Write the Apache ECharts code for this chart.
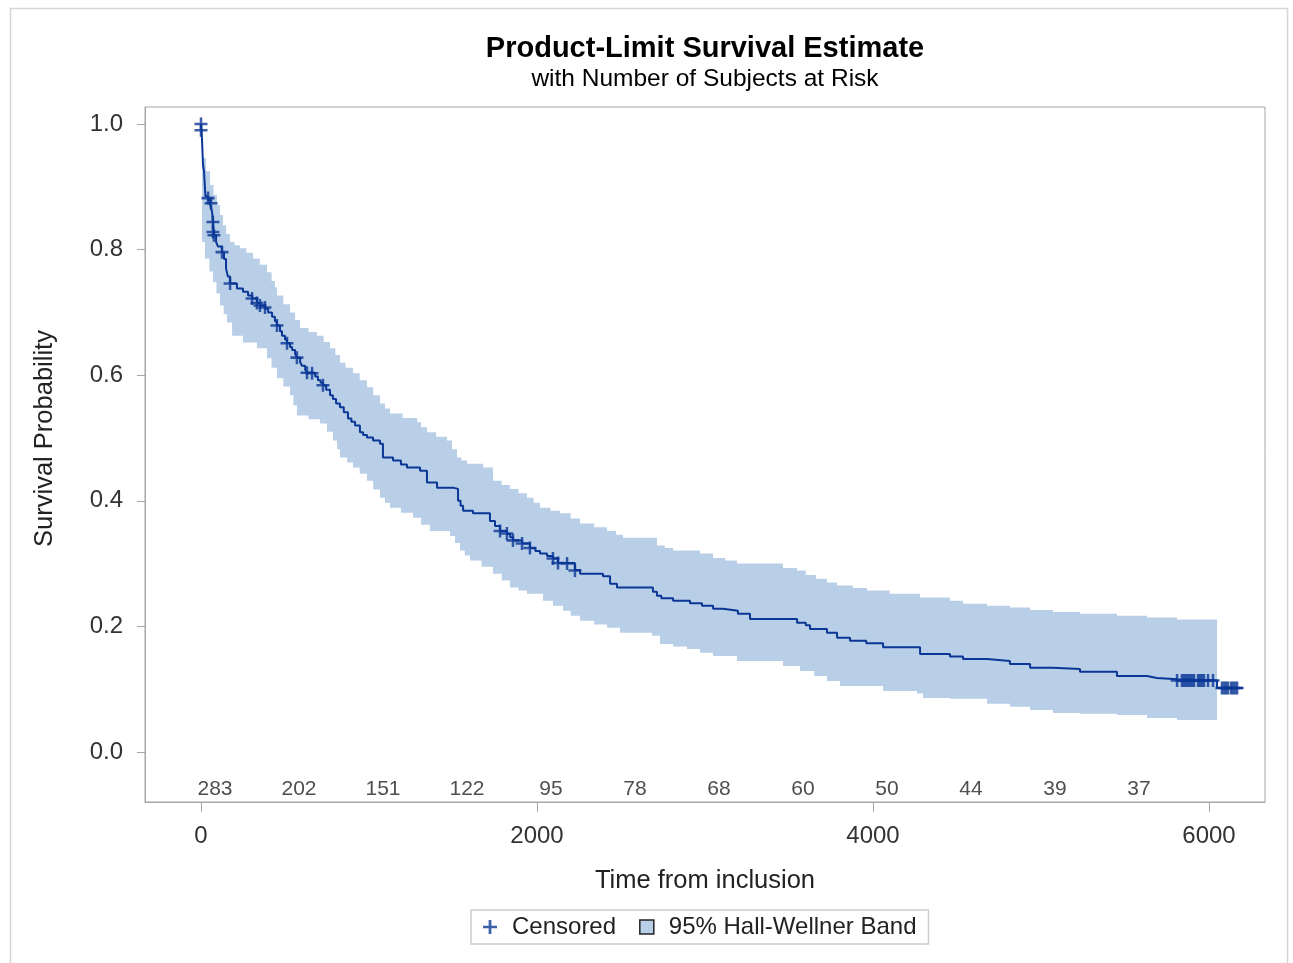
<!DOCTYPE html>
<html>
<head>
<meta charset="utf-8">
<script src="https://cdn.jsdelivr.net/npm/echarts@6/dist/echarts.min.js"></script>
<style>
html,body{margin:0;padding:0;background:#fff;}
#chart{width:1293px;height:963px;}
</style>
</head>
<body>
<div id="chart"></div>
<script>
// ---- Data ----
const kmTime = [0,3,6,9,12,18,22,26,42,55,66,71,77,90,101,125,137,149,160,173,214,250,280,304,333,351,381,400,423,440,452,470,482,500,512,530,542,560,571,590,601,620,631,680,696,712,726,745,768,785,804,827,850,875,895,917,946,965,988,1024,1065,1083,1143,1190,1226,1304,1345,1405,1500,1530,1545,1560,1619,1720,1750,1780,1821,1840,1857,1911,1958,1990,2018,2060,2095,2125,2226,2256,2393,2435,2476,2690,2714,2740,2810,2911,2982,3048,3107,3196,3268,3548,3600,3625,3726,3786,3863,3960,4060,4280,4458,4536,4679,4815,4935,5071,5232,5452,5631,5690,5810,6048,6202];
const kmSurv = [1.0,0.99,0.975,0.955,0.935,0.925,0.905,0.885,0.879,0.871,0.86,0.844,0.823,0.812,0.805,0.796,0.785,0.770,0.757,0.746,0.738,0.733,0.727,0.722,0.715,0.711,0.706,0.700,0.693,0.686,0.679,0.670,0.663,0.657,0.651,0.645,0.640,0.634,0.628,0.621,0.615,0.609,0.604,0.598,0.592,0.588,0.584,0.577,0.568,0.562,0.555,0.549,0.541,0.531,0.526,0.520,0.509,0.505,0.501,0.496,0.491,0.469,0.464,0.458,0.453,0.448,0.429,0.421,0.419,0.400,0.392,0.384,0.380,0.368,0.360,0.352,0.347,0.342,0.337,0.332,0.325,0.320,0.316,0.312,0.308,0.301,0.290,0.284,0.280,0.268,0.262,0.255,0.249,0.245,0.241,0.237,0.233,0.228,0.225,0.220,0.212,0.206,0.202,0.196,0.190,0.182,0.177,0.173,0.167,0.156,0.152,0.148,0.145,0.140,0.134,0.132,0.128,0.121,0.118,0.116,0.114,0.102,0.102];

const censTime = [0,0,42,60,71,71,77,125,173,304,333,351,381,452,512,571,631,661,726,1780,1821,1857,1911,1958,2095,2125,2179,2226,
  5810,5839,5851,5863,5875,5887,5899,5911,5935,5946,5958,5970,5994,6024,6077,6089,6101,6113,6131,6143,6155,6167];
const censSurv = [1.0,0.99,0.882,0.874,0.844,0.828,0.823,0.796,0.746,0.722,0.715,0.711,0.708,0.679,0.651,0.628,0.604,0.603,0.584,0.352,0.348,0.337,0.332,0.325,0.308,0.301,0.300,0.289,
  0.114,0.114,0.114,0.114,0.114,0.114,0.114,0.114,0.114,0.114,0.114,0.114,0.114,0.114,0.102,0.102,0.102,0.102,0.102,0.102,0.102,0.102];

const bandUpTime = [6,30,54,75,95,113,131,150,173,200,232,270,310,350,393,420,440,452,490,530,560,589,640,690,730,768,800,827,860,905,945,988,1025,1065,1095,1125,1200,1286,1310,1345,1400,1464,1494,1524,1550,1583,1679,1738,1790,1839,1890,1940,1980,2018,2080,2137,2200,2256,2340,2417,2470,2512,2714,2760,2810,2970,3048,3120,3190,3464,3548,3600,3660,3726,3786,3880,3964,4100,4280,4458,4536,4679,4815,4935,5071,5232,5452,5631,5810];
const bandUpVal = [0.946,0.925,0.903,0.887,0.871,0.855,0.839,0.825,0.812,0.807,0.802,0.795,0.786,0.776,0.764,0.750,0.740,0.727,0.713,0.700,0.688,0.675,0.669,0.663,0.653,0.643,0.632,0.620,0.612,0.603,0.592,0.581,0.568,0.555,0.547,0.539,0.532,0.525,0.517,0.509,0.502,0.496,0.482,0.469,0.464,0.459,0.453,0.432,0.425,0.419,0.412,0.405,0.397,0.389,0.384,0.380,0.372,0.364,0.358,0.352,0.346,0.341,0.329,0.325,0.321,0.316,0.309,0.305,0.300,0.293,0.289,0.282,0.276,0.270,0.265,0.261,0.257,0.252,0.246,0.241,0.236,0.233,0.230,0.226,0.223,0.220,0.217,0.214,0.211];
const bandLoTime = [6,24,50,71,92,113,135,155,185,250,333,393,420,452,490,530,550,571,640,708,750,786,810,827,870,905,945,988,1025,1065,1095,1125,1190,1262,1310,1363,1482,1512,1542,1570,1601,1670,1738,1790,1839,1890,1940,2036,2095,2155,2200,2256,2340,2417,2494,2685,2732,2810,2893,2970,3048,3190,3464,3565,3650,3726,3804,4060,4262,4298,4458,4679,4815,4935,5071,5232,5452,5631,5810];
const bandLoVal = [0.812,0.786,0.765,0.748,0.730,0.711,0.697,0.684,0.663,0.652,0.643,0.627,0.612,0.595,0.582,0.568,0.552,0.536,0.530,0.523,0.510,0.496,0.482,0.469,0.461,0.453,0.443,0.432,0.418,0.405,0.397,0.389,0.381,0.373,0.362,0.352,0.344,0.333,0.321,0.313,0.305,0.295,0.284,0.273,0.262,0.257,0.252,0.241,0.233,0.225,0.217,0.209,0.203,0.198,0.190,0.185,0.172,0.168,0.164,0.158,0.153,0.145,0.137,0.129,0.121,0.113,0.105,0.097,0.093,0.086,0.085,0.077,0.072,0.067,0.062,0.061,0.059,0.054,0.051];
const bandEndTime = 6048;

const riskTime = [0,500,1000,1500,2000,2500,3000,3500,4000,4500,5000,5500];
const riskCount = [283,202,151,122,95,78,68,60,50,44,39,37];
const riskRowValue = -0.059;

const xTickValues = [0,2000,4000,6000];
const yTickValues = [0,0.2,0.4,0.6,0.8,1.0];

// ---- Styling ----
const FONT = '"Liberation Sans", Arial, Helvetica, sans-serif';
const LINE_COLOR = '#0a3796';
const BAND_COLOR = '#b9cfe7';
const AXIS_COLOR = '#a6a6a6';
const PLUS = 'path://M5,0H7.4V5H12.4V7.4H7.4V12.4H5V7.4H0V5H5Z';

const chart = echarts.init(document.getElementById('chart'), null, {renderer: 'canvas'});

const option = {
  animation: false,
  backgroundColor: '#fff',
  graphic: [
    {type: 'rect', silent: true, z: -10,
     shape: {x: 10.5, y: 8.5, width: 1277, height: 980},
     style: {fill: 'none', stroke: '#d6d6d6', lineWidth: 1.5}},
    {type: 'text', x: 705, y: 49,
     style: {text: 'Product-Limit Survival Estimate', fontFamily: FONT, fontWeight: 'bold', fontSize: 29,
             fill: '#000', align: 'center', verticalAlign: 'middle'}},
    {type: 'text', x: 705, y: 79,
     style: {text: 'with Number of Subjects at Risk', fontFamily: FONT, fontSize: 24.5,
             fill: '#000', align: 'center', verticalAlign: 'middle'}}
  ],
  grid: {left: 145, top: 107, right: 28, bottom: 161, show: true,
         borderColor: AXIS_COLOR, borderWidth: 1, containLabel: false},
  legend: {
    left: 471, top: 910, orient: 'horizontal',
    padding: [5, 12], itemGap: 23, itemWidth: 14, itemHeight: 14,
    borderColor: '#cccccc', borderWidth: 1.5, backgroundColor: '#fff',
    selectedMode: false,
    textStyle: {fontFamily: FONT, fontSize: 24, color: '#222', padding: [0, 0, 0, 10]},
    data: [
      {name: 'Censored', icon: PLUS, itemStyle: {color: LINE_COLOR, borderWidth: 0}},
      {name: '95% Hall-Wellner Band', icon: 'rect',
       itemStyle: {color: BAND_COLOR, borderColor: '#222', borderWidth: 1.5}}
    ]
  },
  xAxis: {
    type: 'value', min: -333.33, max: 6333.33,
    name: 'Time from inclusion', nameLocation: 'middle', nameGap: 66,
    nameTextStyle: {fontFamily: FONT, fontSize: 25.5, color: '#222'},
    axisLine: {show: true, onZero: false, lineStyle: {color: AXIS_COLOR}},
    axisTick: {show: true, customValues: xTickValues, length: 10, lineStyle: {color: AXIS_COLOR}},
    axisLabel: {show: true, customValues: xTickValues, margin: 22,
                fontFamily: FONT, fontSize: 24, color: '#333',
                formatter: v => String(Math.round(v))},
    splitLine: {show: false}
  },
  yAxis: {
    type: 'value', min: -0.0796, max: 1.0271,
    name: 'Survival Probability', nameLocation: 'middle', nameGap: 87,
    nameTextStyle: {fontFamily: FONT, fontSize: 25.5, color: '#222', padding: [0, 0, 0, 32]},
    axisLine: {show: true, onZero: false, lineStyle: {color: AXIS_COLOR}},
    axisTick: {show: true, customValues: yTickValues, length: 8, lineStyle: {color: AXIS_COLOR}},
    axisLabel: {show: true, customValues: yTickValues, margin: 22,
                fontFamily: FONT, fontSize: 24, color: '#333',
                formatter: v => Number(v).toFixed(1)},
    splitLine: {show: false}
  },
  series: [
    {
      name: '95% Hall-Wellner Band', type: 'custom', z: 1, clip: true,
      itemStyle: {color: BAND_COLOR},
      data: [[0, 0]],
      renderItem: function (params, api) {
        const pts = [];
        for (let i = 0; i < bandUpTime.length; i++) {
          const tn = i < bandUpTime.length - 1 ? bandUpTime[i + 1] : bandEndTime;
          pts.push(api.coord([bandUpTime[i], bandUpVal[i]]));
          pts.push(api.coord([tn, bandUpVal[i]]));
        }
        for (let i = bandLoTime.length - 1; i >= 0; i--) {
          const tn = i < bandLoTime.length - 1 ? bandLoTime[i + 1] : bandEndTime;
          pts.push(api.coord([tn, bandLoVal[i]]));
          pts.push(api.coord([bandLoTime[i], bandLoVal[i]]));
        }
        return {type: 'polygon', shape: {points: pts}, style: {fill: BAND_COLOR}};
      }
    },
    {
      name: 'Survival', type: 'line', step: 'end', z: 3,
      showSymbol: false, symbol: 'none',
      lineStyle: {color: LINE_COLOR, width: 2},
      data: kmTime.map((t, i) => [t, kmSurv[i]])
    },
    {
      name: 'Censored', type: 'scatter', z: 4,
      symbol: PLUS, symbolSize: 13,
      itemStyle: {color: LINE_COLOR},
      data: censTime.map((t, i) => [t, censSurv[i]])
    },
    {
      name: 'At Risk', type: 'scatter', z: 5, symbolSize: 1,
      itemStyle: {color: 'rgba(0,0,0,0)'},
      label: {show: true, position: 'inside', offset: [14, 0],
              fontFamily: FONT, fontSize: 21, color: '#222',
              formatter: p => String(p.value[2])},
      data: riskTime.map((t, i) => [t, riskRowValue, riskCount[i]])
    }
  ]
};
chart.setOption(option);
</script>
</body>
</html>
